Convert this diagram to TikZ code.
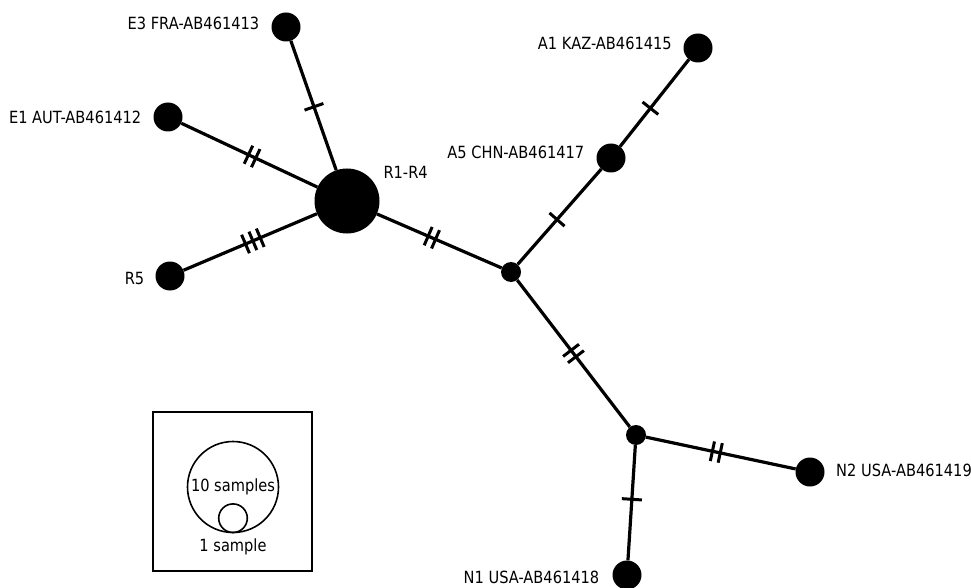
\documentclass[tikz,border=0pt]{standalone}
\usepackage{fontspec}
\setmainfont{DejaVu Sans}[FakeStretch=0.87]
\usetikzlibrary{positioning}
\newcommand{\lblsize}{\fontsize{16.8}{19}\selectfont}
% mutation marks across a link
\newcommand{\mk}{\raisebox{-10pt}{\rule{3pt}{20pt}}}
\newcommand{\mkk}{\mk\hspace{5pt}\mk}
\newcommand{\mkkk}{\mk\hspace{5pt}\mk\hspace{5pt}\mk}

\begin{document}
\begin{tikzpicture}[x=1pt, y=-1pt, font=\lblsize,
  hap/.style={circle, fill=black, inner sep=0pt, minimum size=29pt},
  mv/.style={circle, fill=black, inner sep=0pt, minimum size=20pt},
  link/.style={line width=3.2pt},
  mut/.style={sloped, inner sep=0pt, pos=#1},
  legc/.style={draw, circle, inner sep=0pt, line width=1.6pt}]
  \useasboundingbox (0,0) rectangle (971,588);

  % Haplotypes
  \node[hap, minimum size=65pt] (r14) at (347,201) {};
  \node[hap] (e3) at (286,27) {};
  \node[hap] (e1) at (168,117) {};
  \node[hap] (r5) at (170,276) {};
  \node[hap] (a5) at (611,158) {};
  \node[hap] (a1) at (698,48) {};
  \node[hap] (n2) at (810,472) {};
  \node[hap] (n1) at (627,575) {};

  % Median vectors
  \node[mv] (j1) at (511,272) {};
  \node[mv] (j2) at (636,435) {};

  % Labels
  \node[left=8.5pt of e3, yshift=4pt] (e3l) {E3 FRA-AB461413};
  \node[left=8.5pt of e1] (e1l) {E1 AUT-AB461412};
  \node[left=7.5pt of r5, yshift=-2pt] (r5l) {R5};
  \node[anchor=west] (r14l) at (380,172) {R1-R4};
  \node[left=8.5pt of a5, yshift=6pt] (a5l) {A5 CHN-AB461417};
  \node[left=8pt of a1, yshift=5pt] (a1l) {A1 KAZ-AB461415};
  \node[right=8pt of n2, yshift=1.5pt] (n2l) {N2 USA-AB461419};
  \node[left=9.5pt of n1, yshift=-2pt] (n1l) {N1 USA-AB461418};

  % Links with mutations
  \draw[link] (e3) -- node[mut=0.51] {\mk} (r14);
  \draw[link] (e1) -- node[mut=0.52] {\mkk} (r14);
  \draw[link] (r5) -- node[mut=0.52] {\mkkk} (r14);
  \draw[link] (r14) -- node[mut=0.44] {\mkk} (j1);
  \draw[link] (j1) -- node[mut=0.47] {\mk} (a5);
  \draw[link] (a5) -- node[mut=0.44] {\mk} (a1);
  \draw[link] (j1) -- node[mut=0.5] {\mkk} (j2);
  \draw[link] (j2) -- node[mut=0.47] {\mkk} (n2);
  \draw[link] (j2) -- node[mut=0.47] {\mk} (n1);

  % Legend
  \node[draw, line width=1.5pt, minimum size=159pt] (legend) at (232.5,491.5) {};
  \node[legc, minimum size=91pt] (ten) at (233,487) {10 samples};
  \node[legc, minimum size=28.6pt, anchor=south] (one) at (ten.south) {};
  \node[below=2pt of one] (onel) {1 sample};
\end{tikzpicture}
\end{document}
